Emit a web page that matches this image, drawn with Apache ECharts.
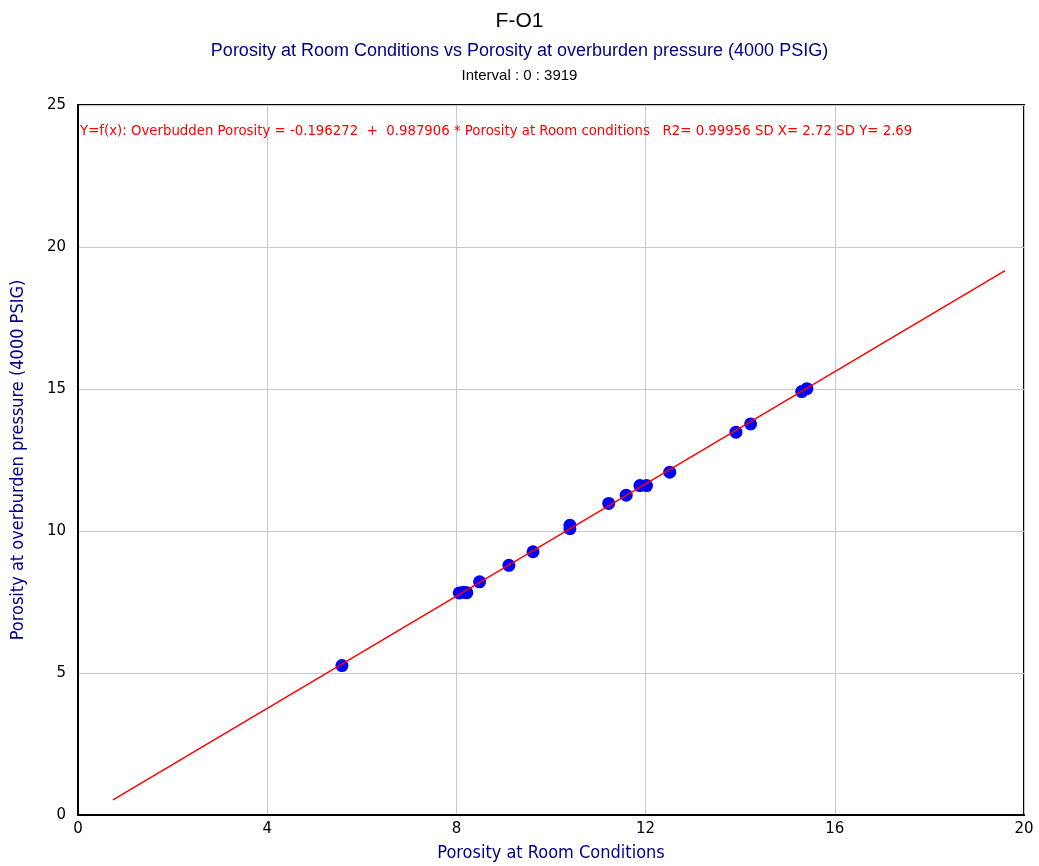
<!DOCTYPE html>
<html><head><meta charset="utf-8">
<script src="https://cdn.jsdelivr.net/npm/echarts@6/dist/echarts.min.js"></script>
<style>html,body{margin:0;padding:0;background:#fff}#c{width:1039px;height:866px}</style>
</head><body><div id="c"></div>
<script>
const roomPorosity = [5.58, 8.06, 8.15, 8.22, 8.49, 9.11, 9.62, 10.40, 10.40, 11.22, 11.59, 11.88, 12.02, 12.51, 13.91, 14.22, 15.30, 15.41];
const overburdenPorosity = [5.26, 7.82, 7.84, 7.83, 8.21, 8.79, 9.27, 10.20, 10.08, 10.97, 11.26, 11.60, 11.60, 12.07, 13.48, 13.77, 14.91, 15.01];
const fitX = [0.74, 19.6];
const fitY = [0.535, 19.17];
const xTicks = [0, 4, 8, 12, 16, 20];
const yTicks = [0, 5, 10, 15, 20, 25];
const titleText = 'F-O1';
const subtitleText = 'Porosity at Room Conditions vs Porosity at overburden pressure (4000 PSIG)';
const intervalText = 'Interval : 0 : 3919';
const equationText = 'Y=f(x): Overbudden Porosity = -0.196272  +  0.987906 * Porosity at Room conditions   R2= 0.99956 SD X= 2.72 SD Y= 2.69';
const xName = 'Porosity at Room Conditions';
const yName = 'Porosity at overburden pressure (4000 PSIG)';

const chart = echarts.init(document.getElementById('c'), null, {renderer: 'canvas'});
chart.setOption({
  animation: false,
  backgroundColor: '#fff',
  title: [
    {text: titleText, left: 'center', top: 6, textStyle: {fontFamily: 'Liberation Sans', fontSize: 21, fontWeight: 'normal', color: '#000'}},
    {text: subtitleText, left: 'center', top: 37, textStyle: {fontFamily: 'Liberation Sans', fontSize: 18, fontWeight: 'normal', color: '#00008b'}},
    {text: intervalText, left: 'center', top: 63, textStyle: {fontFamily: 'Liberation Sans', fontSize: 15, fontWeight: 'normal', color: '#000'}},
    {text: equationText, left: 75, top: 119, textStyle: {fontFamily: 'DejaVu Sans Condensed', fontSize: 14.8, fontWeight: 'normal', color: '#ff0000'}}
  ],
  grid: {left: 78, right: 15, top: 105, bottom: 51, show: true, borderColor: '#000', borderWidth: 2, backgroundColor: 'transparent', outerBoundsMode: 'none'},
  xAxis: {
    type: 'value', min: xTicks[0], max: xTicks[xTicks.length-1], interval: 4,
    name: xName, nameLocation: 'middle', nameGap: 29,
    nameTextStyle: {fontFamily: 'DejaVu Sans Condensed', fontSize: 18, color: '#00008b'},
    axisLine: {show: true, onZero: false, lineStyle: {color: '#000', width: 2}},
    axisTick: {show: false},
    axisLabel: {fontFamily: 'DejaVu Sans', fontSize: 15, color: '#000', margin: 7},
    splitLine: {show: true, lineStyle: {color: '#c8c8c8', width: 1}}
  },
  yAxis: {
    type: 'value', min: yTicks[0], max: yTicks[yTicks.length-1], interval: 5,
    name: yName, nameLocation: 'middle', nameGap: 51,
    nameTextStyle: {fontFamily: 'DejaVu Sans Condensed', fontSize: 18, color: '#00008b'},
    axisLine: {show: true, onZero: false, lineStyle: {color: '#000', width: 2}},
    axisTick: {show: false},
    axisLabel: {fontFamily: 'DejaVu Sans', fontSize: 15, color: '#000', margin: 12},
    splitLine: {show: true, lineStyle: {color: '#c8c8c8', width: 1}}
  },
  series: [
    {type: 'scatter', data: roomPorosity.map((x, i) => [x, overburdenPorosity[i]]), symbol: 'circle', symbolSize: 13,
     itemStyle: {color: '#0000ff', opacity: 1}, z: 2},
    {type: 'line', data: fitX.map((x, i) => [x, fitY[i]]), symbol: 'none', lineStyle: {color: '#ff0000', width: 1.5}, z: 3}
  ]
});
</script></body></html>
